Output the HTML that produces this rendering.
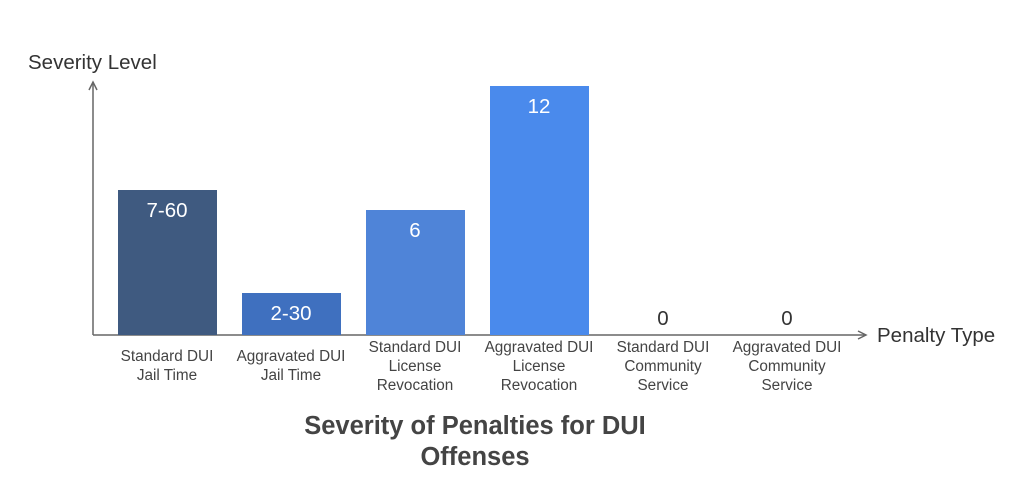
<!DOCTYPE html>
<html><head><style>body{margin:0;background:#fff}</style></head><body>
<svg width="1024" height="479" xmlns="http://www.w3.org/2000/svg" font-family="Liberation Sans, sans-serif">
<rect width="1024" height="479" fill="#fff"/>
<line x1="93" y1="335" x2="93" y2="82" stroke="#666" stroke-width="1.5"/>
<polyline points="89,90 93,82 97,90" fill="none" stroke="#666" stroke-width="1.5"/>
<line x1="93" y1="335" x2="866" y2="335" stroke="#666" stroke-width="1.5"/>
<polyline points="858,331 866,335 858,339" fill="none" stroke="#666" stroke-width="1.5"/>
<text x="28" y="69" font-size="20.5" fill="#333">Severity Level</text>
<text x="877" y="342" font-size="20.5" fill="#333">Penalty Type</text>
<rect x="118" y="190" width="99" height="145" fill="#3f5a80"/>
<rect x="242" y="293" width="99" height="42" fill="#3f70bf"/>
<rect x="366" y="210" width="99" height="125" fill="#4f84d8"/>
<rect x="490" y="86" width="99" height="249" fill="#4a8aec"/>
<g font-size="20.5" fill="#fff" text-anchor="middle">
<text x="167" y="217">7-60</text>
<text x="291" y="320">2-30</text>
<text x="415" y="237">6</text>
<text x="539" y="113">12</text>
</g>
<g font-size="20.5" fill="#333" text-anchor="middle">
<text x="663" y="325">0</text>
<text x="787" y="325">0</text>
</g>
<g font-size="15.3" fill="#444" text-anchor="middle">
<text x="167" y="361">Standard DUI</text><text x="167" y="380">Jail Time</text>
<text x="291" y="361">Aggravated DUI</text><text x="291" y="380">Jail Time</text>
<text x="415" y="352">Standard DUI</text><text x="415" y="371">License</text><text x="415" y="390">Revocation</text>
<text x="539" y="352">Aggravated DUI</text><text x="539" y="371">License</text><text x="539" y="390">Revocation</text>
<text x="663" y="352">Standard DUI</text><text x="663" y="371">Community</text><text x="663" y="390">Service</text>
<text x="787" y="352">Aggravated DUI</text><text x="787" y="371">Community</text><text x="787" y="390">Service</text>
</g>
<g font-size="25.5" font-weight="bold" fill="#444" text-anchor="middle">
<text x="475" y="434">Severity of Penalties for DUI</text>
<text x="475" y="465">Offenses</text>
</g>
</svg>
</body></html>
